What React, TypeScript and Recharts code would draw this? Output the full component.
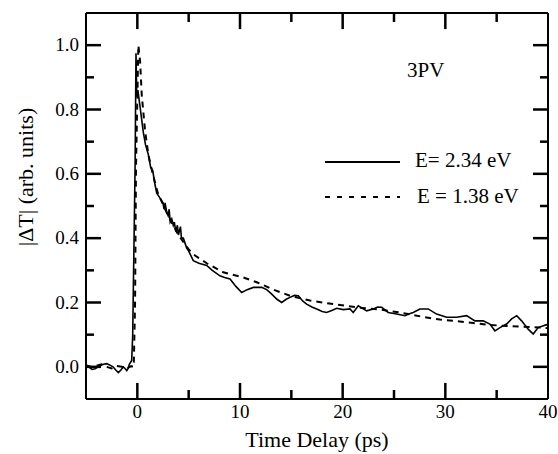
import React from "react";
import { LineChart, Line, XAxis, YAxis } from "recharts";

const solidTime = [-5, -4.77, -4.4, -4.12, -3.8, -3.63, -3.3, -2.98, -2.7, -2.37, -2.1, -1.85, -1.6, -1.36, -1.2, -1.03, -0.9, -0.78, -0.55, -0.45, -0.39, -0.22, -0.13, -0.06, 0.05, 0.26, 0.58, 0.8, 1.07, 1.3, 1.5, 1.7, 1.89, 2.1, 2.3, 2.5, 2.6, 2.7, 2.86, 3.0, 3.1, 3.2, 3.35, 3.5, 3.6, 3.75, 3.9, 4.0, 4.2, 4.3, 4.48, 4.8, 5.0, 5.45, 6.0, 6.76, 7.3, 8.05, 8.5, 9.03, 9.6, 10.17, 10.7, 11.3, 12.11, 12.6, 13.09, 13.6, 14.06, 14.5, 14.87, 15.3, 15.68, 16.1, 16.49, 17.0, 17.47, 18.0, 18.44, 19.0, 19.42, 20.06, 20.71, 21.03, 21.52, 22.0, 22.34, 22.98, 23.4, 23.8, 24.44, 25.26, 26.07, 26.5, 26.87, 27.53, 28.33, 29.15, 30.13, 31.1, 32.07, 32.88, 33.69, 34.34, 34.83, 35.32, 35.97, 36.46, 36.95, 37.43, 38.07, 38.56, 39.04, 39.86, 40];
const solidSignal = [0.0, 0.0, -0.008, -0.006, 0.0, 0.003, 0.008, 0.01, 0.006, 0.0, -0.01, -0.018, -0.01, 0.0, -0.005, -0.012, -0.005, 0.008, 0.02, 0.1, 0.24, 0.62, 0.975, 0.84, 0.86, 0.81, 0.73, 0.69, 0.66, 0.62, 0.61, 0.57, 0.54, 0.53, 0.52, 0.51, 0.49, 0.51, 0.48, 0.47, 0.49, 0.45, 0.46, 0.44, 0.45, 0.42, 0.44, 0.41, 0.436, 0.4, 0.4, 0.37, 0.36, 0.33, 0.322, 0.315, 0.3, 0.283, 0.278, 0.273, 0.25, 0.231, 0.24, 0.247, 0.247, 0.24, 0.226, 0.21, 0.2, 0.21, 0.216, 0.222, 0.221, 0.205, 0.195, 0.186, 0.18, 0.172, 0.169, 0.176, 0.182, 0.178, 0.18, 0.169, 0.19, 0.18, 0.174, 0.18, 0.186, 0.185, 0.169, 0.164, 0.159, 0.165, 0.169, 0.18, 0.18, 0.164, 0.154, 0.154, 0.159, 0.143, 0.143, 0.133, 0.112, 0.122, 0.133, 0.149, 0.159, 0.143, 0.117, 0.102, 0.122, 0.131, 0.13];

const dashedTime = [-5, -4.5, -4, -3.5, -3, -2.5, -2, -1.5, -1, -0.6, -0.35, -0.22, -0.13, 0.1, 0.27, 0.36, 0.43, 0.75, 1.07, 1.5, 2, 3, 4, 5, 5.62, 6.76, 8.37, 10.32, 11.63, 13.24, 14.87, 16.82, 19.08, 21.36, 23.63, 25.58, 27.85, 29.47, 31.1, 32.72, 34.34, 36.12, 37.58, 39.2, 40];
const dashedSignal = [0.005, 0.0, 0.003, 0.008, 0.0, -0.005, 0.003, 0.0, -0.005, 0.002, 0.0, 0.2, 0.62, 1.0, 0.95, 0.89, 0.845, 0.735, 0.66, 0.6, 0.54, 0.47, 0.41, 0.365, 0.346, 0.322, 0.294, 0.278, 0.263, 0.24, 0.221, 0.206, 0.195, 0.185, 0.178, 0.169, 0.155, 0.147, 0.142, 0.136, 0.13, 0.127, 0.125, 0.122, 0.12];

const xTicks = [0, 5, 10, 15, 20, 25, 30, 35];
const xLabelTicks = [0, 10, 20, 30, 40];
const yTicks = [0, 0.1, 0.2, 0.3, 0.4, 0.5, 0.6, 0.7, 0.8, 0.9, 1.0];
const yLabelTicks = [0, 0.2, 0.4, 0.6, 0.8, 1.0];
const legendLabels = ["E= 2.34 eV", "E = 1.38 eV"];
const annotation = "3PV";
const xTitle = "Time Delay (ps)";
const yTitle = "|\u0394T| (arb. units)";

const solidData = solidTime.map((t, i) => ({ t, v: solidSignal[i] }));
const dashedData = dashedTime.map((t, i) => ({ t, v: dashedSignal[i] }));

const FONT = "Liberation Serif";
const X_MIN = -5;
const X_MAX = 40;
const Y_MIN = -0.1;
const Y_MAX = 1.1;
const X_DOMAIN: [number, number] = [X_MIN, X_MAX];
const Y_DOMAIN: [number, number] = [Y_MIN, Y_MAX];
// inward tick-mark lengths in the other axis' data units (about 16/9 px and 15/8 px)
const X_TICK_LEN_MAJOR = 0.05;
const X_TICK_LEN_MINOR = 0.028;
const Y_TICK_LEN_MAJOR = 1.46;
const Y_TICK_LEN_MINOR = 0.78;
const blackLine = { stroke: "#000", strokeWidth: 2 };
const isMajorX = (v: number) => Math.round(v) % 10 === 0;
const isMajorY = (v: number) => Math.round(v * 10) % 2 === 0;

const renderBottomLabel = (props: any) => (
  <text x={Number(props.x)} y={Number(props.y) + 19} textAnchor="middle" fontFamily={FONT} fontSize={19} fill="#000">
    {props.payload.value}
  </text>
);

const renderLeftLabel = (props: any) => (
  <text x={Number(props.x) - 7} y={Number(props.y) + 6} textAnchor="end" fontFamily={FONT} fontSize={19} fill="#000">
    {Number(props.payload.value).toFixed(1)}
  </text>
);

// tick marks built from the tick lists, drawn as tiny two-point series through the chart scales
const tickMarks: { key: string; data: { t: number; v: number }[] }[] = [];
xTicks.forEach((x) => {
  const len = isMajorX(x) ? X_TICK_LEN_MAJOR : X_TICK_LEN_MINOR;
  tickMarks.push({ key: `b${x}`, data: [{ t: x, v: Y_MIN }, { t: x, v: Y_MIN + len }] });
  tickMarks.push({ key: `t${x}`, data: [{ t: x, v: Y_MAX }, { t: x, v: Y_MAX - len }] });
});
yTicks.forEach((y) => {
  const len = isMajorY(y) ? Y_TICK_LEN_MAJOR : Y_TICK_LEN_MINOR;
  tickMarks.push({ key: `l${y}`, data: [{ t: X_MIN, v: y }, { t: X_MIN + len, v: y }] });
  tickMarks.push({ key: `r${y}`, data: [{ t: X_MAX, v: y }, { t: X_MAX - len, v: y }] });
});

export default function App() {
  return (
    <div style={{ position: "absolute", left: 0, top: 0, width: 558, height: 454, background: "#fff" }}>
      <LineChart width={558} height={454} margin={{ top: 12, right: 9, bottom: 0, left: 0 }}>
        <XAxis
          xAxisId="bottom"
          orientation="bottom"
          dataKey="t"
          type="number"
          domain={X_DOMAIN}
          ticks={xLabelTicks}
          allowDataOverflow
          height={55}
          tickSize={0}
          tickMargin={0}
          tickLine={false}
          axisLine={blackLine}
          tick={renderBottomLabel}
          interval={0}
        />
        <XAxis
          xAxisId="top"
          orientation="top"
          type="number"
          domain={X_DOMAIN}
          allowDataOverflow
          height={1}
          tick={false}
          tickLine={false}
          axisLine={blackLine}
        />
        <YAxis
          yAxisId="left"
          orientation="left"
          type="number"
          domain={Y_DOMAIN}
          ticks={yLabelTicks}
          allowDataOverflow
          width={86}
          tickSize={0}
          tickMargin={0}
          tickLine={false}
          axisLine={blackLine}
          tick={renderLeftLabel}
          interval={0}
        />
        <YAxis
          yAxisId="right"
          orientation="right"
          type="number"
          domain={Y_DOMAIN}
          allowDataOverflow
          width={1}
          tick={false}
          tickLine={false}
          axisLine={blackLine}
        />
        {tickMarks.map((m) => (
          <Line
            key={m.key}
            xAxisId="bottom"
            yAxisId="left"
            data={m.data}
            dataKey="v"
            type="linear"
            stroke="#000"
            strokeWidth={2.5}
            dot={false}
            activeDot={false}
            legendType="none"
            isAnimationActive={false}
          />
        ))}
        <Line
          xAxisId="bottom"
          yAxisId="left"
          data={dashedData}
          dataKey="v"
          type="linear"
          stroke="#000"
          strokeWidth={2}
          strokeDasharray="6 5"
          dot={false}
          activeDot={false}
          isAnimationActive={false}
          name={legendLabels[1]}
        />
        <Line
          xAxisId="bottom"
          yAxisId="left"
          data={solidData}
          dataKey="v"
          type="linear"
          stroke="#000"
          strokeWidth={1.6}
          dot={false}
          activeDot={false}
          isAnimationActive={false}
          name={legendLabels[0]}
        />
      </LineChart>
      <svg
        width={558}
        height={454}
        style={{ position: "absolute", left: 0, top: 0, pointerEvents: "none" }}
      >
        <text x={407} y={77} fontFamily={FONT} fontSize={21} fill="#000">
          {annotation}
        </text>
        <line x1={325} y1={162} x2={400} y2={162} stroke="#000" strokeWidth={1.8} />
        <text x={415} y={167} fontFamily={FONT} fontSize={21} fill="#000">
          {legendLabels[0]}
        </text>
        <line x1={325} y1={197} x2={400} y2={197} stroke="#000" strokeWidth={1.8} strokeDasharray="5 7" />
        <text x={417} y={203} fontFamily={FONT} fontSize={21} fill="#000">
          {legendLabels[1]}
        </text>
        <text x={317} y={447} textAnchor="middle" fontFamily={FONT} fontSize={22} fill="#000">
          {xTitle}
        </text>
        <text
          x={0}
          y={0}
          transform="translate(33,177) rotate(-90)"
          textAnchor="middle"
          fontFamily={FONT}
          fontSize={22}
          fill="#000"
        >
          {yTitle}
        </text>
      </svg>
    </div>
  );
}
